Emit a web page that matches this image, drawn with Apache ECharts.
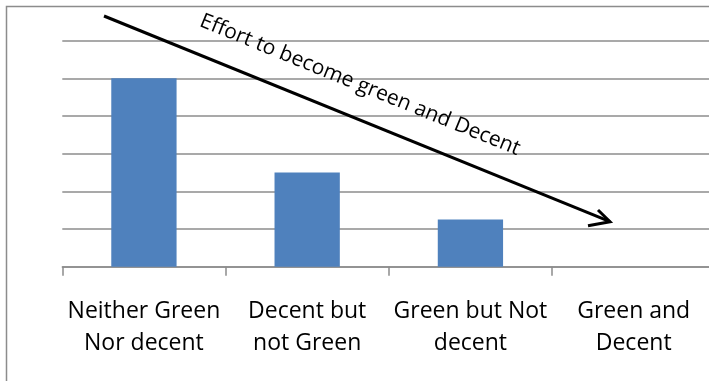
<!DOCTYPE html>
<html>
<head>
<meta charset="utf-8">
<script src="https://cdn.jsdelivr.net/npm/echarts@6/dist/echarts.min.js"></script>
<style>
  html, body { margin: 0; padding: 0; background: #fff; }
  #chart { width: 709px; height: 381px; }
</style>
</head>
<body>
<div id="chart"></div>
<script>
// Categories along the horizontal axis
const categories = [
  'Neither Green\nNor decent',
  'Decent but\nnot Green',
  'Green but Not\ndecent',
  'Green and\nDecent'
];
// Bar heights
const values = [5, 2.5, 1.25, 0];
// Value axis range
const yMin = 0;
const yMax = 6;
const yStep = 1;
// Annotation along the arrow
const arrowText = 'Effort to become green and Decent';

const chart = echarts.init(document.getElementById('chart'));

const rad = -Math.atan2(221.7 - 16, 610 - 104);

chart.setOption({
  animation: false,
  backgroundColor: '#ffffff',
  // plot area runs a little past the right edge of the canvas
  grid: {
    left: 62.3, width: 653, top: 40.7, height: 226,
    containLabel: false,
    outerBoundsMode: 'none'
  },
  xAxis: {
    type: 'category',
    data: categories,
    boundaryGap: true,
    axisLine: { show: true, lineStyle: { color: '#8c8c8c', width: 1.5 } },
    axisTick: { show: true, length: 9, alignWithLabel: false, lineStyle: { color: '#8c8c8c', width: 1.5 } },
    axisLabel: {
      interval: 0,
      margin: 29,
      color: '#000',
      fontFamily: 'Open Sans',
      fontSize: 23,
      lineHeight: 32,
      align: 'center'
    }
  },
  yAxis: {
    type: 'value',
    min: yMin,
    max: yMax,
    interval: yStep,
    axisLine: { show: false },
    axisTick: { show: false },
    axisLabel: { show: false },
    splitLine: { show: true, lineStyle: { color: '#8c8c8c', width: 1.5 } }
  },
  series: [{
    type: 'bar',
    data: values,
    barWidth: '40%',
    itemStyle: { color: '#4f81bd' }
  }],
  graphic: [
    {
      type: 'rect',
      shape: { x: 6.5, y: 6.5, width: 740, height: 420 },
      style: { fill: 'none', stroke: '#8c8c8c', lineWidth: 1.5 },
      z: 0
    },
    {
      type: 'line',
      shape: { x1: 104, y1: 16, x2: 610, y2: 221.7 },
      style: { stroke: '#000', lineWidth: 3 },
      z: 10
    },
    {
      type: 'polyline',
      shape: { points: [[598, 210], [610, 221.7], [588, 225.7]] },
      style: { stroke: '#000', lineWidth: 3, fill: 'none', lineJoin: 'miter' },
      z: 10
    },
    {
      type: 'text',
      x: 360,
      y: 85,
      rotation: rad,
      style: {
        text: arrowText,
        fill: '#000',
        font: '21px "Open Sans"',
        align: 'center',
        verticalAlign: 'middle'
      },
      z: 10
    }
  ]
});
</script>
</body>
</html>
